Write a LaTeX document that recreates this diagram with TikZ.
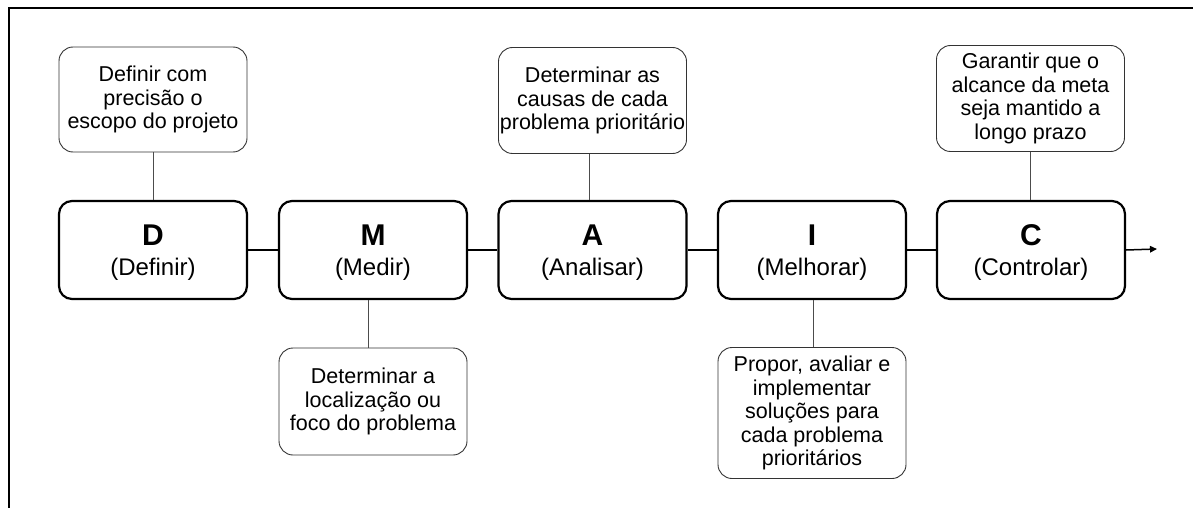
\documentclass[tikz,border=0pt]{standalone}
\usepackage{fontspec}
\setmainfont{Liberation Sans}
\usetikzlibrary{arrows.meta}
\tikzset{
  phase/.style={draw=black, line width=2.2pt, rounded corners=13pt, minimum width=188pt, minimum height=98pt, inner sep=0pt, align=center, font=\fontsize{24}{30.5}\selectfont},
  callout/.style={draw=black!80, line width=0.9pt, rounded corners=14pt, minimum width=188pt, inner sep=0pt, align=center, font=\fontsize{21.5}{23.5}\selectfont},
  link/.style={draw=black, line width=2.2pt},
  stem/.style={draw=black!70, line width=0.9pt},
  frameline/.style={draw=black, line width=1.8pt}
}
\newcommand{\phasetext}[2]{{\fontsize{30}{30.5}\selectfont\rule{0pt}{26pt}\bfseries #1}\\#2}
\begin{document}
\begin{tikzpicture}[x=1pt,y=-1pt]
\useasboundingbox (0,0) rectangle (1194,508);
\draw[frameline] (9,508) -- (9,8) -- (1193,8);

\node[phase] (d) at (153,250) {\phasetext{D}{(Definir)}};
\node[phase] (m) at (373,250) {\phasetext{M}{(Medir)}};
\node[phase] (a) at (592.5,250) {\phasetext{A}{(Analisar)}};
\node[phase] (i) at (812,250) {\phasetext{I}{(Melhorar)}};
\node[phase] (c) at (1031,250) {\phasetext{C}{(Controlar)}};
\coordinate (end) at (1157,249);

\draw[link] (d) -- (m);
\draw[link] (m) -- (a);
\draw[link] (a) -- (i);
\draw[link] (i) -- (c);
\draw[link, line width=1.5pt, -{Triangle[length=7pt,width=6.5pt]}] (c.east) -- (end);

\node[callout, minimum height=105pt] (dc) at (153,99.5) {Definir com\\precisão o\\escopo do projeto};
\node[callout, minimum height=106pt] (ac) at (592.5,100.5) {Determinar as\\causas de cada\\problema prioritário};
\node[callout, minimum height=106pt] (cc) at (1030.5,98.5) {Garantir que o\\alcance da meta\\seja mantido a\\longo prazo};
\node[callout, minimum height=107pt] (mc) at (373,401.5) {Determinar a\\localização ou\\foco do problema};
\node[callout, minimum height=131pt] (ic) at (812,413) {Propor, avaliar e\\implementar\\soluções para\\cada problema\\prioritários};

\draw[stem] (dc.south) -- (dc.south |- d.north);
\draw[stem] ([xshift=-3.5pt]ac.south) -- ([xshift=-3.5pt]ac.south |- a.north);
\draw[stem] (cc.south) -- (cc.south |- c.north);
\draw[stem] ([xshift=-5pt]mc.north) -- ([xshift=-5pt]mc.north |- m.south);
\draw[stem] ([xshift=1pt]ic.north) -- ([xshift=1pt]ic.north |- i.south);
\end{tikzpicture}
\end{document}
